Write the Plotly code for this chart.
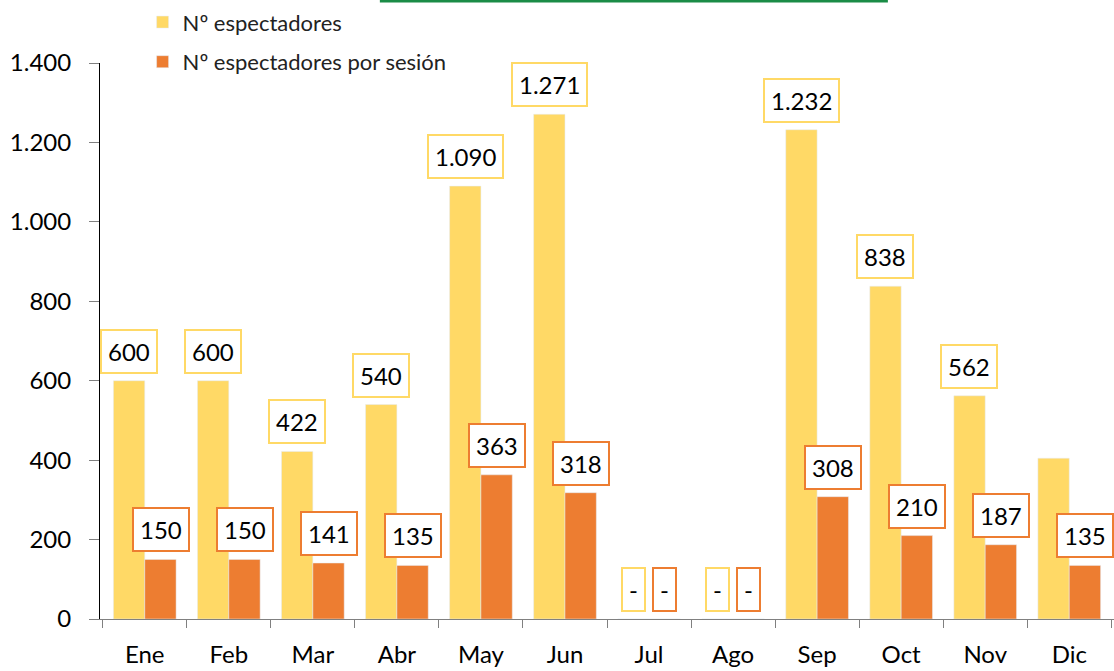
import plotly.graph_objects as go

months = ["Ene", "Feb", "Mar", "Abr", "May", "Jun", "Jul", "Ago", "Sep", "Oct", "Nov", "Dic"]
espectadores = [600, 600, 422, 540, 1090, 1271, 0, 0, 1232, 838, 562, 405]
por_sesion = [150, 150, 141, 135, 363, 318, 0, 0, 308, 210, 187, 135]
espectadores_label_shown = [True] * 11 + [False]
por_sesion_label_shown = [True] * 12
y_ticks = [0, 200, 400, 600, 800, 1000, 1200, 1400]

YELLOW = "#FFD966"
ORANGE = "#ED7D31"
FONT = "Lato"


def fmt(v):
    return "-" if v == 0 else f"{v:,}".replace(",", ".")


fig = go.Figure()
fig.add_trace(go.Bar(x=months, y=espectadores, name="Nº espectadores",
                     marker_color=YELLOW, legendgroup="a"))
fig.add_trace(go.Bar(x=months, y=por_sesion, name="Nº espectadores por sesión",
                     marker_color=ORANGE, legendgroup="b"))

half_bar = 15.75
annotations = []
for series, shown, color, shift in [(espectadores, espectadores_label_shown, YELLOW, -half_bar),
                                    (por_sesion, por_sesion_label_shown, ORANGE, half_bar)]:
    for m, v, s in zip(months, series, shown):
        if not s:
            continue
        annotations.append(dict(
            x=m, y=v, xref="x", yref="y", text=fmt(v), showarrow=False,
            xanchor="center", yanchor="bottom", xshift=shift, yshift=7,
            font=dict(family=FONT, size=24, color="black"),
            bgcolor="white", bordercolor=color, borderwidth=2, borderpad=6,
        ))

fig.update_layout(
    width=1114, height=671,
    margin=dict(l=100, r=0, t=63, b=52),
    paper_bgcolor="white", plot_bgcolor="white",
    barmode="group", bargap=0.254, bargroupgap=0,
    separators=",.",
    font=dict(family=FONT, size=24, color="black"),
    showlegend=True,
    legend=dict(x=0.042, y=1.111, xanchor="left", yanchor="top",
                orientation="v", traceorder="grouped", tracegroupgap=8,
                font=dict(family=FONT, size=22, color="#222"),
                bgcolor="rgba(0,0,0,0)"),
    annotations=annotations,
    shapes=[dict(type="line", xref="paper", yref="paper",
                 x0=0.276, x1=0.777, y0=1.1115, y1=1.1115,
                 line=dict(color="#1a8c46", width=3))],
)
fig.update_xaxes(
    type="category", showgrid=False, showline=True, linecolor="#808080", linewidth=1,
    ticks="outside", tickson="boundaries", ticklen=8, tickcolor="#808080",
    tickfont=dict(family=FONT, size=24, color="black"),
    ticklabelstandoff=14, automargin=False,
)
fig.update_yaxes(
    range=[0, 1400], tickvals=y_ticks, tickformat=",d", showgrid=False, zeroline=False,
    showline=True, linecolor="black", linewidth=1,
    ticks="outside", ticklen=10, tickcolor="#808080",
    tickfont=dict(family=FONT, size=24, color="black"),
    ticklabelstandoff=13, automargin=False,
)

fig.write_html("out.html")
